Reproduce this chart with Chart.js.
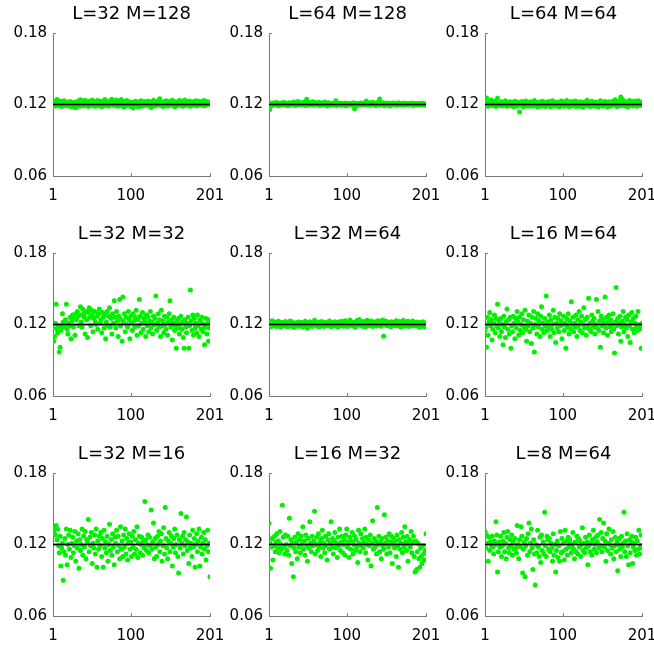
<!DOCTYPE html>
<html>
<head>
<meta charset="utf-8">
<script src="https://cdn.jsdelivr.net/npm/chart.js@4/dist/chart.umd.min.js"></script>
<style>
  html, body { margin: 0; padding: 0; background: #fff; }
  #wrap { position: relative; width: 654px; height: 646px; overflow: hidden; }
  #wrap canvas { position: absolute; }
</style>
</head>
<body>
<div id="wrap"></div>
<script>
// axis ticks
const xTicks = [1, 100, 201];
const yTicks = [0.06, 0.12, 0.18];
const refValue = 0.12;

// panel titles, row by row
const titles = ["L=32 M=128", "L=64 M=128", "L=64 M=64",
                "L=32 M=32", "L=32 M=64", "L=16 M=64",
                "L=32 M=16", "L=16 M=32", "L=8 M=64"];

// estimates, 201 values each
const l32m128 = [
 .1212,.1195,.1224,.1188,.1207,.1241,.1236,.1203,.1192,.1218,.1227,.1184,.1209,.1199,.1232,.1215,.1190,.1221,.1205,.1196,
 .1213,.1187,.1225,.1201,.1178,.1210,.1194,.1219,.1203,.1172,.1216,.1198,.1229,.1207,.1185,.1240,.1213,.1196,.1222,.1189,
 .1205,.1236,.1193,.1218,.1201,.1183,.1227,.1210,.1195,.1214,.1238,.1190,.1207,.1224,.1186,.1211,.1199,.1233,.1205,.1192,
 .1219,.1228,.1181,.1204,.1216,.1195,.1241,.1208,.1190,.1223,.1212,.1187,.1230,.1202,.1218,.1244,.1196,.1209,.1226,.1191,
 .1214,.1237,.1203,.1185,.1220,.1199,.1231,.1242,.1194,.1210,.1176,.1225,.1206,.1189,.1234,.1215,.1197,.1222,.1208,.1183,
 .1218,.1201,.1170,.1213,.1195,.1228,.1187,.1206,.1221,.1179,.1210,.1198,.1232,.1186,.1204,.1219,.1192,.1225,.1208,.1196,
 .1214,.1230,.1189,.1207,.1222,.1174,.1211,.1199,.1235,.1203,.1187,.1220,.1213,.1195,.1229,.1206,.1248,.1191,.1217,.1202,
 .1184,.1224,.1209,.1196,.1231,.1212,.1188,.1219,.1204,.1227,.1193,.1210,.1236,.1198,.1215,.1182,.1223,.1207,.1190,.1218,
 .1201,.1233,.1195,.1211,.1226,.1186,.1216,.1204,.1238,.1192,.1209,.1221,.1197,.1213,.1230,.1185,.1219,.1206,.1194,.1224,
 .1210,.1199,.1232,.1188,.1215,.1203,.1227,.1193,.1211,.1220,.1196,.1208,.1234,.1190,.1217,.1205,.1225,.1198,.1212,.1221,.1206
];
const l64m128 = [
 .1203,.1158,.1197,.1210,.1192,.1205,.1214,.1199,.1208,.1195,.1216,.1202,.1190,.1209,.1198,.1212,.1204,.1193,.1207,.1219,
 .1201,.1196,.1211,.1205,.1189,.1208,.1215,.1200,.1194,.1213,.1206,.1198,.1220,.1203,.1191,.1210,.1204,.1226,.1197,.1209,
 .1214,.1202,.1195,.1207,.1218,.1199,.1205,.1192,.1244,.1203,.1222,.1208,.1196,.1215,.1201,.1209,.1224,.1194,.1206,.1217,
 .1200,.1212,.1197,.1204,.1219,.1191,.1208,.1202,.1213,.1196,.1205,.1221,.1199,.1210,.1187,.1203,.1214,.1198,.1207,.1193,
 .1211,.1204,.1196,.1209,.1200,.1231,.1192,.1206,.1201,.1212,.1197,.1208,.1203,.1194,.1210,.1199,.1205,.1213,.1190,.1207,
 .1202,.1196,.1211,.1204,.1198,.1209,.1193,.1206,.1214,.1164,.1197,.1208,.1203,.1191,.1210,.1205,.1199,.1212,.1195,.1207,
 .1201,.1213,.1198,.1205,.1229,.1196,.1209,.1203,.1215,.1194,.1207,.1200,.1218,.1197,.1206,.1211,.1189,.1204,.1216,.1199,
 .1208,.1246,.1195,.1211,.1205,.1198,.1214,.1190,.1207,.1203,.1210,.1196,.1212,.1201,.1188,.1206,.1209,.1199,.1213,.1204,
 .1197,.1210,.1203,.1193,.1208,.1215,.1200,.1205,.1196,.1211,.1202,.1207,.1194,.1212,.1199,.1206,.1201,.1209,.1196,.1204,
 .1210,.1198,.1205,.1213,.1192,.1207,.1201,.1209,.1197,.1204,.1211,.1195,.1206,.1200,.1203,.1212,.1198,.1207,.1193,.1205,.1202
];
const l64m64 = [
 .1198,.1215,.1254,.1207,.1186,.1222,.1193,.1211,.1238,.1201,.1189,.1217,.1196,.1228,.1183,.1209,.1252,.1204,.1191,.1213,
 .1199,.1224,.1187,.1206,.1218,.1194,.1231,.1202,.1185,.1215,.1197,.1210,.1223,.1189,.1205,.1216,.1181,.1208,.1227,.1195,
 .1212,.1186,.1220,.1201,.1137,.1209,.1193,.1226,.1204,.1182,.1214,.1198,.1230,.1190,.1207,.1219,.1185,.1203,.1224,.1196,
 .1211,.1188,.1217,.1233,.1200,.1192,.1213,.1179,.1206,.1221,.1194,.1209,.1186,.1228,.1202,.1215,.1197,.1184,.1219,.1205,
 .1191,.1225,.1203,.1212,.1180,.1208,.1232,.1196,.1214,.1187,.1201,.1222,.1193,.1210,.1178,.1216,.1204,.1229,.1190,.1207,
 .1220,.1185,.1211,.1199,.1234,.1194,.1206,.1181,.1218,.1202,.1225,.1189,.1213,.1197,.1208,.1230,.1183,.1205,.1221,.1193,
 .1210,.1186,.1224,.1201,.1215,.1177,.1207,.1219,.1195,.1212,.1236,.1190,.1203,.1218,.1184,.1209,.1227,.1198,.1214,.1188,
 .1206,.1222,.1193,.1211,.1180,.1217,.1200,.1231,.1191,.1208,.1219,.1185,.1204,.1226,.1196,.1213,.1182,.1210,.1223,.1199,
 .1188,.1215,.1204,.1228,.1193,.1211,.1240,.1197,.1184,.1218,.1206,.1230,.1190,.1262,.1209,.1244,.1195,.1216,.1187,.1224,
 .1202,.1213,.1181,.1219,.1234,.1198,.1207,.1225,.1189,.1211,.1196,.1229,.1203,.1186,.1216,.1232,.1200,.1214,.1192,.1221,.1208
];
const l32m32 = [
 .118,.106,.110,.121,.137,.116,.113,.119,.097,.101,.115,.118,.129,.122,.118,.120,.124,.137,.116,.112,
 .121,.119,.126,.108,.123,.128,.118,.125,.111,.129,.124,.131,.127,.119,.128,.135,.122,.118,.133,.129,
 .126,.112,.131,.124,.109,.130,.134,.126,.119,.132,.128,.114,.125,.131,.122,.120,.127,.116,.129,.133,
 .121,.124,.113,.130,.126,.117,.128,.108,.122,.131,.119,.127,.134,.118,.125,.112,.129,.121,.140,.126,
 .117,.131,.123,.110,.127,.141,.119,.124,.106,.143,.122,.129,.114,.126,.120,.118,.131,.124,.108,.127,
 .121,.115,.129,.123,.118,.126,.132,.111,.124,.119,.141,.127,.113,.121,.130,.116,.125,.122,.110,.128,
 .119,.126,.114,.123,.131,.117,.122,.112,.127,.120,.125,.144,.115,.121,.129,.118,.124,.110,.132,.119,
 .123,.113,.127,.120,.116,.126,.111,.122,.129,.140,.118,.124,.107,.121,.126,.115,.119,.100,.123,.117,
 .125,.112,.120,.127,.116,.122,.109,.100,.124,.118,.113,.121,.126,.100,.119,.149,.123,.115,.128,.111,
 .125,.117,.121,.113,.128,.119,.110,.124,.122,.116,.126,.114,.120,.103,.118,.125,.112,.121,.106,.117,.124
];
const l32m64 = [
 .1205,.1192,.1178,.1213,.1232,.1196,.1224,.1187,.1208,.1219,.1183,.1201,.1227,.1195,.1210,.1176,.1204,.1218,.1189,.1199,
 .1212,.1225,.1193,.1181,.1207,.1216,.1198,.1230,.1186,.1203,.1221,.1191,.1174,.1209,.1195,.1214,.1200,.1185,.1222,.1206,
 .1190,.1217,.1202,.1179,.1211,.1196,.1228,.1188,.1205,.1168,.1215,.1199,.1223,.1193,.1207,.1184,.1218,.1201,.1235,.1195,
 .1210,.1187,.1203,.1220,.1178,.1208,.1197,.1226,.1191,.1214,.1183,.1200,.1219,.1206,.1189,.1212,.1196,.1229,.1204,.1181,
 .1216,.1198,.1207,.1187,.1223,.1202,.1193,.1211,.1179,.1220,.1205,.1190,.1227,.1199,.1213,.1186,.1208,.1231,.1196,.1210,
 .1184,.1217,.1203,.1238,.1194,.1209,.1221,.1188,.1200,.1215,.1177,.1206,.1233,.1197,.1211,.1242,.1192,.1219,.1204,.1186,
 .1225,.1199,.1212,.1180,.1207,.1236,.1195,.1218,.1190,.1210,.1229,.1201,.1183,.1214,.1198,.1223,.1206,.1188,.1216,.1232,
 .1193,.1209,.1226,.1185,.1204,.1237,.1102,.1213,.1197,.1228,.1189,.1206,.1220,.1194,.1211,.1182,.1224,.1200,.1215,.1191,
 .1218,.1203,.1231,.1187,.1209,.1196,.1225,.1201,.1178,.1214,.1205,.1234,.1192,.1210,.1186,.1221,.1199,.1227,.1208,.1183,
 .1216,.1195,.1211,.1229,.1190,.1204,.1219,.1187,.1207,.1222,.1198,.1213,.1176,.1209,.1218,.1195,.1224,.1203,.1180,.1212,.1206
];
const l16m64 = [
 .115,.118,.101,.126,.111,.122,.130,.119,.124,.107,.116,.121,.128,.113,.125,.119,.137,.117,.123,.110,
 .125,.114,.120,.103,.127,.118,.109,.122,.133,.116,.124,.112,.126,.100,.119,.114,.127,.121,.108,.125,
 .117,.131,.122,.111,.126,.115,.120,.129,.113,.124,.118,.132,.116,.106,.123,.119,.128,.114,.121,.104,
 .126,.117,.131,.097,.120,.125,.112,.129,.118,.123,.110,.127,.135,.116,.121,.113,.125,.119,.144,.115,
 .122,.118,.128,.110,.124,.116,.120,.132,.113,.126,.105,.121,.117,.125,.114,.129,.119,.123,.108,.120,
 .127,.115,.121,.100,.125,.118,.129,.112,.123,.116,.139,.120,.126,.114,.121,.118,.128,.110,.124,.119,
 .131,.115,.122,.127,.113,.120,.134,.117,.124,.111,.126,.119,.142,.116,.121,.114,.128,.123,.118,.125,
 .112,.120,.141,.117,.131,.115,.123,.101,.127,.119,.124,.113,.121,.143,.117,.126,.111,.122,.128,.118,
 .124,.114,.120,.129,.116,.096,.122,.151,.119,.125,.112,.121,.127,.106,.118,.123,.131,.114,.120,.126,
 .117,.124,.110,.128,.119,.105,.122,.130,.116,.125,.113,.121,.127,.118,.115,.131,.120,.116,.119,.100,.121
];
const l32m16 = [
 .130,.131,.134,.128,.136,.124,.133,.119,.113,.127,.102,.117,.121,.090,.114,.125,.111,.133,.103,.120,
 .128,.116,.132,.109,.121,.126,.113,.119,.131,.106,.123,.117,.129,.100,.124,.115,.120,.133,.111,.127,
 .118,.131,.108,.124,.122,.141,.114,.126,.119,.130,.104,.121,.117,.128,.112,.133,.101,.123,.116,.127,
 .119,.130,.110,.125,.101,.132,.117,.122,.113,.127,.106,.120,.137,.115,.124,.111,.129,.118,.103,.126,
 .121,.132,.114,.127,.119,.108,.135,.116,.123,.110,.128,.118,.133,.112,.125,.107,.121,.129,.116,.122,
 .110,.127,.118,.131,.112,.124,.116,.135,.109,.121,.127,.113,.120,.126,.111,.123,.117,.156,.124,.115,
 .120,.128,.113,.126,.119,.149,.116,.122,.138,.108,.125,.118,.110,.127,.120,.131,.114,.123,.129,.106,
 .119,.134,.112,.151,.125,.117,.108,.123,.130,.114,.121,.127,.102,.118,.125,.133,.113,.120,.128,.110,
 .096,.124,.117,.146,.121,.127,.112,.130,.119,.124,.143,.115,.122,.104,.128,.117,.121,.110,.132,.118,
 .125,.101,.120,.129,.114,.123,.133,.102,.118,.126,.112,.121,.130,.116,.124,.107,.119,.132,.114,.121,.093
];
const l16m32 = [
 .138,.121,.100,.118,.125,.107,.119,.127,.114,.122,.129,.117,.123,.113,.131,.120,.116,.153,.126,.118,
 .112,.128,.120,.115,.127,.111,.142,.119,.124,.104,.121,.093,.117,.126,.114,.122,.108,.129,.118,.124,
 .113,.127,.120,.135,.116,.123,.111,.128,.119,.106,.125,.117,.139,.121,.114,.127,.119,.123,.148,.112,
 .120,.126,.115,.129,.118,.122,.110,.125,.132,.117,.121,.113,.127,.119,.107,.124,.129,.116,.121,.139,
 .118,.125,.112,.123,.130,.117,.121,.109,.126,.119,.133,.115,.122,.127,.113,.120,.124,.111,.128,.133,
 .118,.122,.109,.126,.116,.123,.130,.112,.120,.127,.115,.124,.118,.105,.132,.121,.114,.129,.119,.125,
 .117,.122,.133,.113,.126,.120,.107,.124,.119,.128,.102,.121,.140,.116,.125,.118,.123,.112,.151,.120,
 .127,.114,.122,.108,.125,.119,.116,.145,.121,.126,.112,.123,.118,.129,.113,.122,.127,.104,.120,.125,
 .117,.123,.110,.128,.119,.101,.124,.116,.121,.130,.113,.126,.118,.135,.122,.115,.127,.106,.120,.124,
 .118,.131,.113,.122,.127,.110,.097,.123,.099,.114,.121,.108,.101,.117,.110,.104,.119,.112,.107,.115,.129
];
const l8m64 = [
 .131,.117,.128,.121,.106,.126,.115,.122,.119,.127,.118,.112,.123,.120,.139,.128,.097,.114,.122,.118,
 .127,.110,.119,.123,.130,.114,.121,.108,.126,.131,.117,.113,.124,.119,.128,.111,.122,.116,.125,.117,
 .113,.136,.120,.108,.124,.118,.135,.127,.096,.116,.122,.093,.119,.125,.111,.129,.138,.114,.121,.133,
 .117,.099,.124,.112,.086,.120,.113,.132,.118,.110,.126,.105,.128,.115,.122,.112,.147,.119,.110,.127,
 .124,.116,.125,.114,.121,.117,.106,.129,.111,.120,.097,.115,.123,.109,.119,.106,.131,.113,.125,.114,
 .121,.107,.132,.116,.123,.111,.126,.118,.124,.121,.113,.119,.130,.116,.108,.122,.114,.127,.112,.125,
 .118,.123,.110,.120,.134,.115,.121,.113,.126,.117,.122,.103,.119,.128,.114,.121,.111,.124,.132,.116,
 .120,.126,.113,.122,.128,.117,.141,.119,.130,.114,.125,.138,.118,.123,.106,.129,.115,.121,.133,.120,
 .112,.124,.117,.131,.108,.119,.126,.114,.122,.098,.120,.125,.116,.110,.127,.118,.121,.147,.114,.123,
 .110,.129,.119,.103,.124,.113,.122,.127,.104,.118,.121,.115,.126,.111,.123,.116,.132,.112,.119,.128,.117
];

const series = [l32m128, l64m128, l64m64, l32m32, l32m64, l16m64, l32m16, l16m32, l8m64];

// where each plot area sits on the page
const plotLeft = [53, 269, 485];
const plotTop = [33, 253, 473];
const plotW = 157, plotH = 143;
const axisColor = "#777";
const fontFamily = "'DejaVu Sans', sans-serif";

// title over the plot area, and short inward ticks like matlab
const panelDecor = {
    id: "panelDecor",
    afterDraw(chart) {
        const { ctx, chartArea } = chart;
        const xs = chart.scales.x, ys = chart.scales.y;
        ctx.save();
        ctx.strokeStyle = axisColor;
        ctx.lineWidth = 1;
        ctx.beginPath();
        xTicks.forEach(v => {
            const px = Math.round(xs.getPixelForValue(v)) + 0.5;
            ctx.moveTo(px, chartArea.bottom);
            ctx.lineTo(px, chartArea.bottom - 3);
        });
        yTicks.forEach(v => {
            const py = Math.round(ys.getPixelForValue(v)) + 0.5;
            ctx.moveTo(chartArea.left, py);
            ctx.lineTo(chartArea.left + 3, py);
        });
        ctx.stroke();
        ctx.fillStyle = "#000";
        ctx.font = "18px " + fontFamily;
        ctx.textAlign = "center";
        ctx.textBaseline = "alphabetic";
        ctx.fillText(chart.options.panelTitle, (chartArea.left + chartArea.right) / 2, chartArea.top - 14);
        ctx.restore();
    }
};

const wrap = document.getElementById("wrap");

series.forEach((vals, i) => {
    const row = Math.floor(i / 3), col = i % 3;
    const canvas = document.createElement("canvas");
    const w = 53 + plotW + 20, h = 33 + plotH + 36;
    canvas.width = w;
    canvas.height = h;
    canvas.style.left = (plotLeft[col] - 53) + "px";
    canvas.style.top = (plotTop[row] - 33) + "px";
    wrap.appendChild(canvas);

    const points = vals.map((v, k) => ({ x: k + 1, y: v }));
    const first = xTicks[0], last = xTicks[xTicks.length - 1];

    new Chart(canvas.getContext("2d"), {
        type: "scatter",
        data: {
            datasets: [
                {
                    type: "line",
                    data: [{ x: first, y: refValue }, { x: last, y: refValue }],
                    borderColor: "#000",
                    borderWidth: 1,
                    pointRadius: 0,
                },
                {
                    type: "line",
                    data: [{ x: first, y: refValue }, { x: last, y: refValue }],
                    borderColor: "#c00000",
                    borderWidth: 2.2,
                    pointRadius: 0,
                },
                {
                    data: points,
                    backgroundColor: "#00f000",
                    borderWidth: 0,
                    pointRadius: 2.5,
                },
            ],
        },
        options: {
            responsive: false,
            animation: false,
            panelTitle: titles[i],
            layout: { padding: { top: 33, right: 20, left: 0, bottom: 0 } },
            plugins: { legend: { display: false }, tooltip: { enabled: false } },
            scales: {
                x: {
                    type: "linear",
                    min: first,
                    max: last,
                    afterBuildTicks: s => { s.ticks = xTicks.map(v => ({ value: v })); },
                    afterFit: s => { s.height = 36; s.paddingLeft = 0; s.paddingRight = 0; },
                    grid: { color: "transparent", drawTicks: false },
                    border: { display: true, color: axisColor, width: 1 },
                    ticks: { color: "#000", padding: 11, maxRotation: 0, autoSkip: false,
                             font: { family: fontFamily, size: 15 } },
                },
                y: {
                    min: yTicks[0],
                    max: yTicks[yTicks.length - 1],
                    afterBuildTicks: s => { s.ticks = yTicks.map(v => ({ value: v })); },
                    afterFit: s => { s.width = 53; s.paddingTop = 0; s.paddingBottom = 0; },
                    grid: { color: "transparent", drawTicks: false },
                    border: { display: true, color: axisColor, width: 1 },
                    ticks: { color: "#000", padding: 6, autoSkip: false,
                             callback: v => v.toFixed(2),
                             font: { family: fontFamily, size: 15 } },
                },
            },
        },
        plugins: [panelDecor],
    });
});
</script>
</body>
</html>
